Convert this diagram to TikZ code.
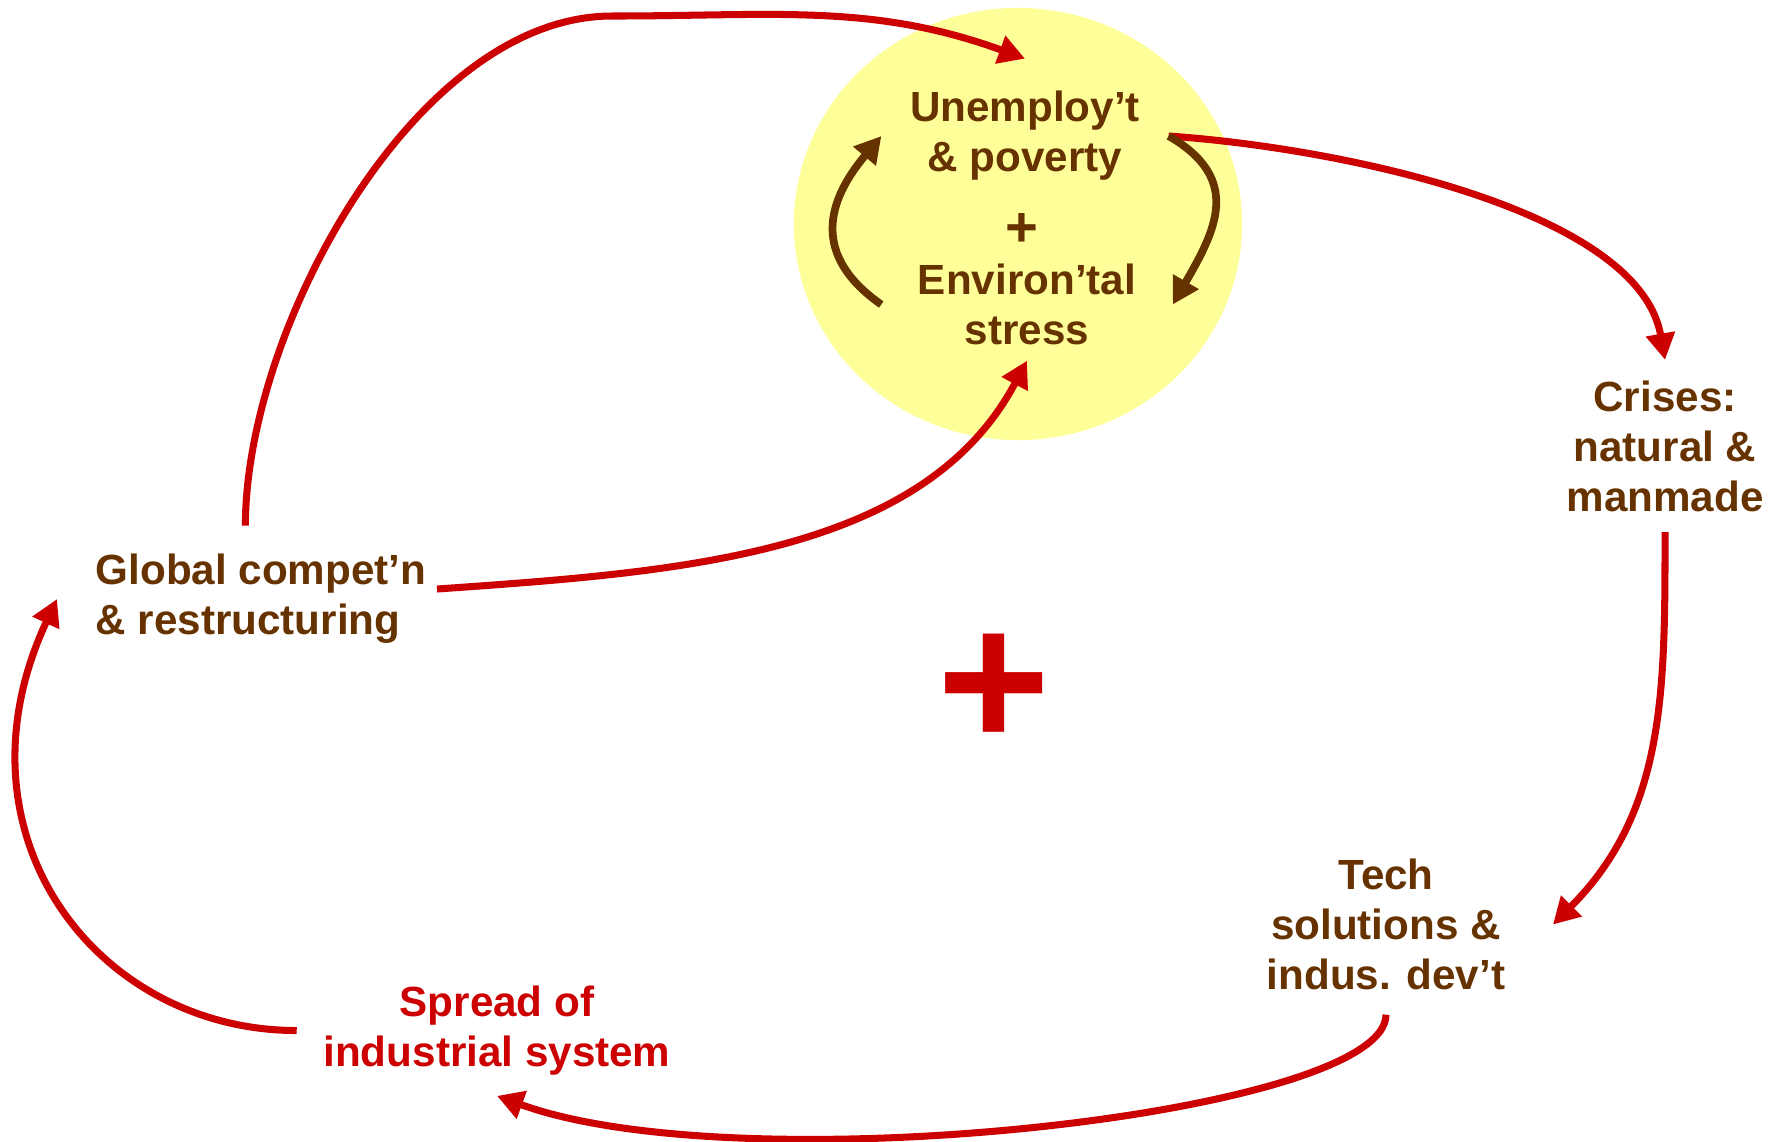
\documentclass[tikz,border=0pt]{standalone}
\usepackage{fontspec}
\setmainfont{Liberation Sans}
\usetikzlibrary{arrows.meta, shapes.geometric}
\definecolor{darkbrown}{HTML}{663300}
\definecolor{deepred}{HTML}{CC0000}
\definecolor{paleyellow}{HTML}{FFFF99}
\tikzset{
    txt/.style={text=darkbrown, font=\bfseries\fontsize{12}{14.2}\selectfont, align=center, inner sep=0pt},
    redarr/.style={draw=deepred, line width=2pt, -{Triangle[length=7.5pt,width=8pt]}},
    brownarr/.style={draw=darkbrown, line width=2.2pt, -{Triangle[length=7.5pt,width=8pt]}}
}

\begin{document}
\begin{tikzpicture}[x=0.01cm, y=0.01cm]
    \useasboundingbox (0,0) rectangle (1786,-1141);
    \node[ellipse, fill=paleyellow, minimum width=4.48cm, minimum height=4.32cm, inner sep=0pt] (pov) at (1018,-224) {};
    \node[txt, inner xsep=0.28cm, inner ysep=0.32cm] (unemp) at (1025,-136) {Unemploy’t\\ \& poverty};
    \node[txt, font=\bfseries\fontsize{16}{19}\selectfont] (pplus) at (1022,-230) {+};
    \node[txt, inner xsep=0.36cm, inner ysep=0.15cm] (envstress) at (1027,-304.5) {Environ’tal\\ stress};
    \node[txt, inner sep=0.2cm] (crises) at (1665,-446) {Crises:\\ natural \&\\ manmade};
    \node[txt, inner xsep=0.47cm, inner ysep=0.24cm] (tech) at (1386,-924.5) {Tech\\ solutions \&\\ indus. dev’t};
    \node[txt, text=deepred, inner xsep=0.26cm, inner ysep=0.2cm] (spread) at (497,-1030.5) {Spread of\\ industrial system};
    \node[txt, align=left, anchor=west, inner xsep=0.1cm, inner ysep=0.28cm] (global) at (85,-599) {Global compet’n\\ \& restructuring};
    \node[txt, text=deepred, font=\bfseries\fontsize{55}{60}\selectfont] (bigplus) at (994,-691) {+};
    % outer loop
    \draw[redarr] (global.102) to[out=90,in=180,looseness=0.8] (612,-16) to[out=0,in=160] (unemp.north);
    \draw[redarr] ([yshift=0.1cm]global.east) to[out=4,in=-118,out distance=2.45cm,in distance=2.2cm] (envstress.south);
    \draw[redarr] (unemp.east) to[out=-4,in=100,out distance=1.8cm,in distance=1.5cm] (crises.north);
    \draw[redarr] (crises.south) to[out=-90,in=45] (tech.east);
    \draw[redarr] (tech.south) to[out=-90,in=-20,out distance=1cm,in distance=2.6cm] (spread.south);
    \draw[redarr] (spread.west) to[out=180,in=-115,out distance=2cm,in distance=2.6cm] ([xshift=-0.28cm]global.west);
    % inner loop
    \draw[brownarr] (envstress.west) to[out=145,in=-130,looseness=1.3] (unemp.west);
    \draw[brownarr] (unemp.east) to[out=-30,in=60,looseness=1.3] (envstress.east);
\end{tikzpicture}
\end{document}
